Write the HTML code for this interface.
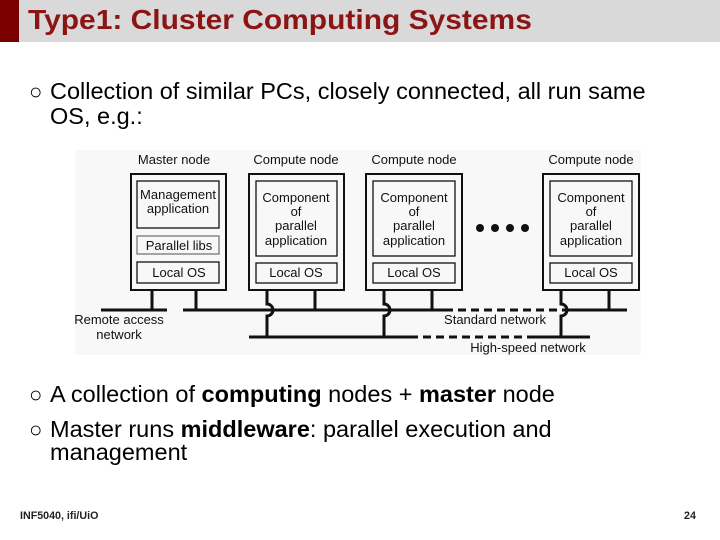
<!DOCTYPE html>
<html><head><meta charset="utf-8"><style>
body{margin:0;width:720px;height:540px;background:#fff;position:relative;overflow:hidden;font-family:"Liberation Sans",sans-serif}
.t{position:absolute;white-space:nowrap}
.b{font-size:23.5px;color:#000;left:50px}
.o{position:absolute;left:29px;font-size:22px;color:#000}
</style></head><body>
<div style="position:absolute;left:0;top:0;width:720px;height:42px;background:#d9d9d9"></div>
<div style="position:absolute;left:0;top:0;width:19px;height:42px;background:#7a0000"></div>
<div class="t" style="left:28px;top:4px;font-size:28px;font-weight:bold;color:#8b1414;transform:scaleX(1.07);transform-origin:0 0">Type1: Cluster Computing Systems</div>
<div class="o" style="top:79px">○</div>
<div class="t b" style="top:78px">Collection of similar PCs, closely connected, all run same</div>
<div class="t b" style="top:103px">OS, e.g.:</div>
<svg style="position:absolute;left:0;top:0" width="720" height="540" font-family="Liberation Sans, sans-serif" font-size="13">
<rect x="75" y="150" width="566" height="205" fill="#f8f8f8"/>
<g fill="none" stroke="#111" stroke-width="2">
<rect x="131" y="174" width="95" height="116"/>
<rect x="137" y="181" width="82" height="47" stroke-width="1.3"/>
<rect x="137" y="236" width="82" height="18" stroke-width="1.3" stroke="#777"/>
<rect x="137" y="262" width="82" height="21" stroke-width="1.3"/>
<rect x="249" y="174" width="95" height="116"/>
<rect x="256" y="181" width="81" height="75" stroke-width="1.3"/>
<rect x="256" y="263" width="81" height="20" stroke-width="1.3"/>
<rect x="366" y="174" width="96" height="116"/>
<rect x="373" y="181" width="82" height="75" stroke-width="1.3"/>
<rect x="373" y="263" width="82" height="20" stroke-width="1.3"/>
<rect x="543" y="174" width="96" height="116"/>
<rect x="550" y="181" width="82" height="75" stroke-width="1.3"/>
<rect x="550" y="263" width="82" height="20" stroke-width="1.3"/>
</g>
<g fill="none" stroke="#111" stroke-width="3">
<path d="M152 290V310M196 290V310M315 290V310M432 290V310M609 290V310"/>
<path d="M101 310H167M183 310H445M565 310H627"/>
<path d="M445 310H565" stroke-dasharray="8 5"/>
<path d="M249 337H410M535 337H590"/>
<path d="M410 337H535" stroke-dasharray="8 5"/>
<path d="M267 290V304A6 6 0 0 1 267 316V337"/>
<path d="M384 290V304A6 6 0 0 1 384 316V337"/>
<path d="M561 290V304A6 6 0 0 1 561 316V337"/>
</g>
<g fill="#111"><circle cx="480" cy="228" r="4"/><circle cx="495" cy="228" r="4"/><circle cx="510" cy="228" r="4"/><circle cx="525" cy="228" r="4"/></g>
<g fill="#111" text-anchor="middle">
<text x="174" y="164">Master node</text><text x="296" y="164">Compute node</text><text x="414" y="164">Compute node</text><text x="591" y="164">Compute node</text>
<text x="178" y="199">Management</text><text x="178" y="213">application</text>
<text x="179" y="250">Parallel libs</text><text x="179" y="277">Local OS</text>
<g id="c"><text x="296" y="202">Component</text><text x="296" y="216">of</text><text x="296" y="230">parallel</text><text x="296" y="245">application</text><text x="296" y="277">Local OS</text></g>
<use href="#c" x="118"/><use href="#c" x="295"/>
<text x="119" y="324">Remote access</text><text x="119" y="339">network</text>
<text x="495" y="324">Standard network</text><text x="528" y="352">High-speed network</text>
</g>
<text x="20" y="519" font-size="10.7" font-weight="bold" fill="#222">INF5040, ifi/UiO</text>
<text x="684" y="519" font-size="10.7" font-weight="bold" fill="#222">24</text>
</svg>
<div class="o" style="top:382px">○</div>
<div class="t b" style="top:381px">A collection of <b>computing</b> nodes + <b>master</b> node</div>
<div class="o" style="top:417px">○</div>
<div class="t b" style="top:416px">Master runs <b>middleware</b>: parallel execution and</div>
<div class="t b" style="top:439px">management</div>
</body></html>
